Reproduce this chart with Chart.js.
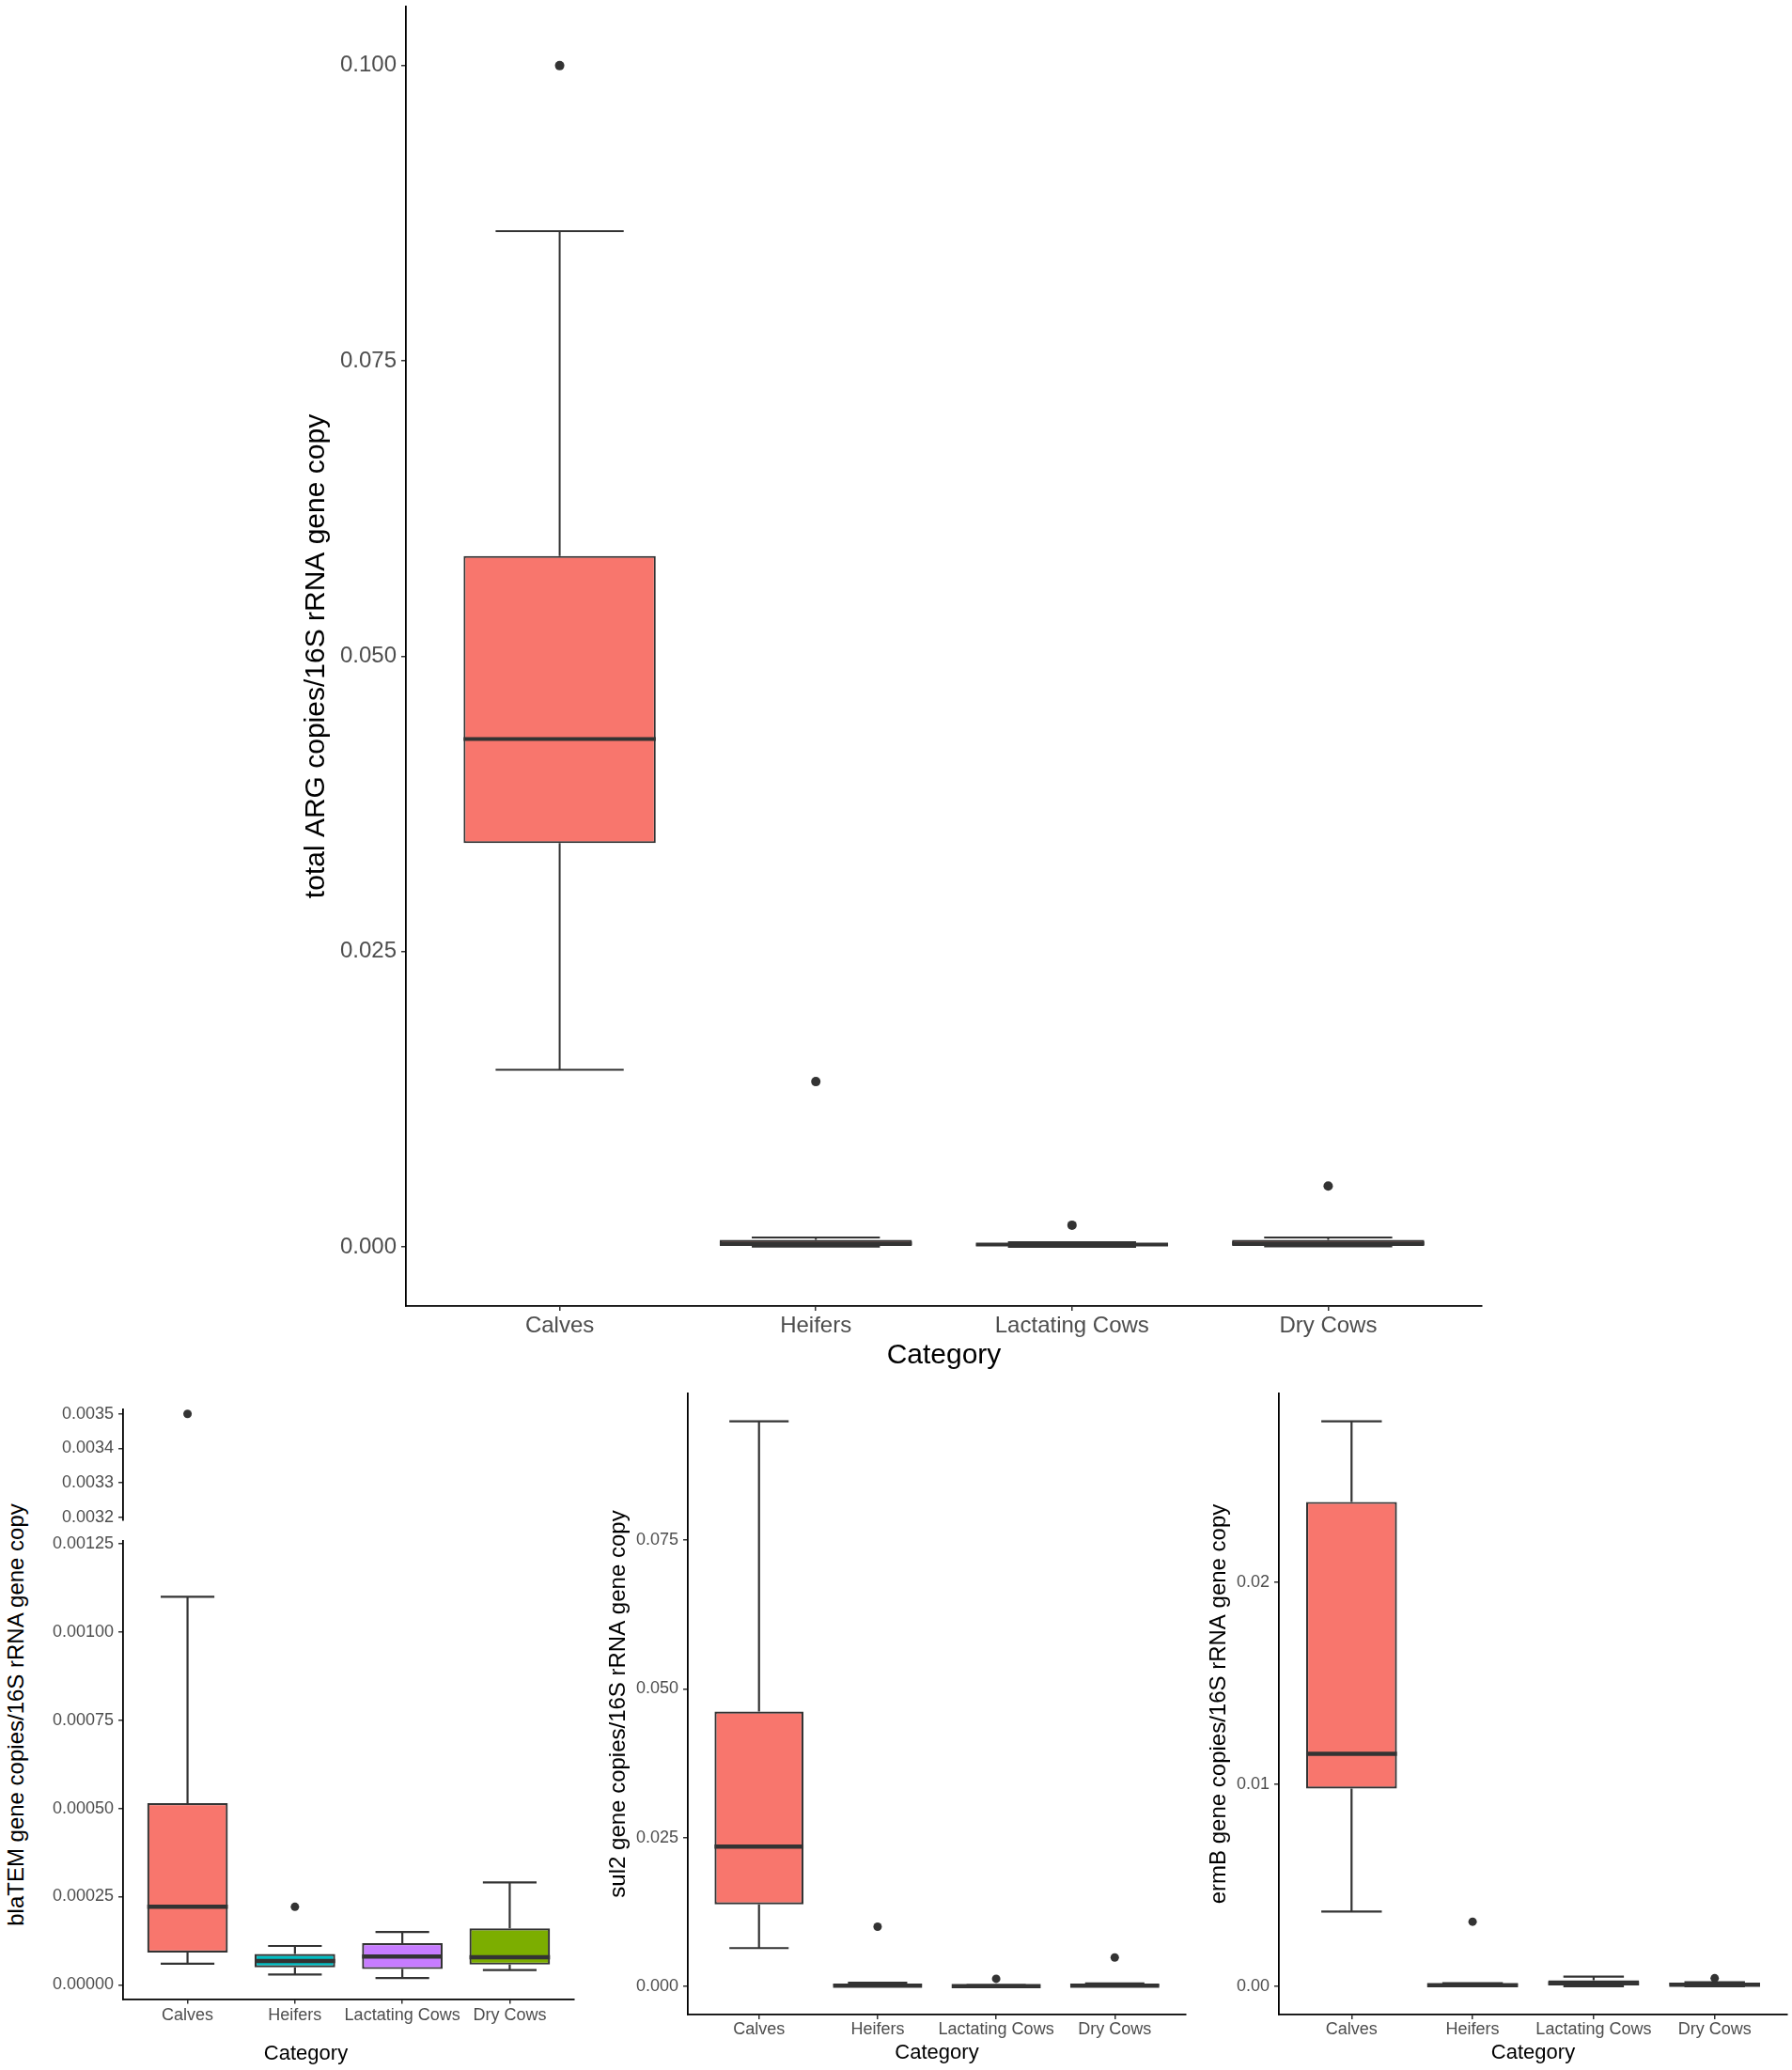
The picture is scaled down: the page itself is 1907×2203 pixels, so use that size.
<!DOCTYPE html>
<html>
<head>
<meta charset="utf-8">
<script src="https://cdn.jsdelivr.net/npm/chart.js@4.4.1/dist/chart.umd.min.js"></script>
<style>
  html, body { margin: 0; padding: 0; background: #fff; }
  body { width: 1907px; height: 2203px; position: relative; overflow: hidden; }
  .panel { position: absolute; }
  .ytitle {
    position: absolute; width: 600px; height: 30px; line-height: 30px; text-align: center;
    font: 24px 'Liberation Sans', Arial, sans-serif; color: #000; transform: rotate(-90deg);
  }
</style>
</head>
<body>
<div class="panel" style="left:319px;top:0;width:1264px;height:1461px"><canvas id="totalChart"></canvas></div>
<div class="panel" style="left:40px;top:1495px;width:582px;height:127px"><canvas id="blaHighChart"></canvas></div>
<div class="panel" style="left:40px;top:1635px;width:582px;height:564px"><canvas id="blaLowChart"></canvas></div>
<div class="ytitle" style="left:-282px;top:1810px">blaTEM gene copies/16S rRNA gene copy</div>
<div class="panel" style="left:644px;top:1478px;width:623px;height:720px"><canvas id="sul2Chart"></canvas></div>
<div class="panel" style="left:1283px;top:1478px;width:624px;height:720px"><canvas id="ermBChart"></canvas></div>

<script>
const categories = ['Calves', 'Heifers', 'Lactating Cows', 'Dry Cows'];

// total ARG copies / 16S
const totalLow = [0.0150, 0.00003, 0.00002, 0.00005];
const totalQ1 = [0.0342, 0.0001, 0.0001, 0.0001];
const totalMedian = [0.0430, 0.0003, 0.0002, 0.0003];
const totalQ3 = [0.0585, 0.0006, 0.0003, 0.0006];
const totalHigh = [0.0860, 0.0008, 0.0004, 0.0008];
const totalOutliers = [0.100, 0.0140, 0.00185, 0.00516];
const totalTicks = [0, 0.025, 0.05, 0.075, 0.1];
const totalTickLabels = ['0.000', '0.025', '0.050', '0.075', '0.100'];

// blaTEM (broken axis)
const blaLow = [0.0000595, 0.0000291, 0.0000190, 0.0000419];
const blaQ1 = [0.0000912, 0.0000494, 0.0000445, 0.0000571];
const blaMedian = [0.000221, 0.0000672, 0.0000798, 0.0000780];
const blaQ3 = [0.000515, 0.0000873, 0.0001177, 0.0001596];
const blaHigh = [0.00110, 0.000110, 0.0001494, 0.000290];
const blaOutliersLow = [null, 0.000221, null, null];
const blaOutliersHigh = [0.0035, null, null, null];
const blaLowTicks = [0, 0.00025, 0.0005, 0.00075, 0.001, 0.00125];
const blaLowTickLabels = ['0.00000', '0.00025', '0.00050', '0.00075', '0.00100', '0.00125'];
const blaHighTicks = [0.0032, 0.0033, 0.0034, 0.0035];
const blaHighTickLabels = ['0.0032', '0.0033', '0.0034', '0.0035'];

// sul2
const sul2Low = [0.00643, 0.0, 0.0, 0.0];
const sul2Q1 = [0.01377, 0.00005, 0.00002, 0.00003];
const sul2Median = [0.0235, 0.0001, 0.00005, 0.0001];
const sul2Q3 = [0.04618, 0.0004, 0.00015, 0.0003];
const sul2High = [0.09498, 0.0006, 0.0002, 0.0005];
const sul2Outliers = [null, 0.01003, 0.00128, 0.00486];
const sul2Ticks = [0, 0.025, 0.05, 0.075];
const sul2TickLabels = ['0.000', '0.025', '0.050', '0.075'];

// ermB
const ermBLow = [0.0037, 0.0, 0.0, 0.0];
const ermBQ1 = [0.00979, 0.00002, 0.00005, 0.00002];
const ermBMedian = [0.01151, 0.00005, 0.00015, 0.00008];
const ermBQ3 = [0.02399, 0.00012, 0.0003, 0.00018];
const ermBHigh = [0.02798, 0.00015, 0.00048, 0.0002];
const ermBOutliers = [null, 0.0032, null, 0.0004];
const ermBTicks = [0, 0.01, 0.02];
const ermBTickLabels = ['0.00', '0.01', '0.02'];

const hueColors = ['#F8766D', '#00BFC4', '#C77CFF', '#7CAE00'];
const redColors = ['#F8766D', '#F8766D', '#F8766D', '#F8766D'];

Chart.defaults.font.family = "'Liberation Sans', Arial, sans-serif";

// whiskers behind the boxes, medians on top
const boxParts = {
    id: 'boxParts',
    beforeDatasetsDraw(chart, args, opts) {
        if (!opts || !opts.low) return;
        const ctx = chart.ctx, xs = chart.scales.x, ys = chart.scales.y;
        ctx.save();
        ctx.strokeStyle = opts.color;
        ctx.lineWidth = opts.lineWidth;
        opts.low.forEach((lo, i) => {
            const x = xs.getPixelForValue(i);
            const xa = xs.getPixelForValue(i - opts.capWidth / 2);
            const xb = xs.getPixelForValue(i + opts.capWidth / 2);
            const yLo = ys.getPixelForValue(lo), yHi = ys.getPixelForValue(opts.high[i]);
            ctx.beginPath();
            ctx.moveTo(x, yLo); ctx.lineTo(x, ys.getPixelForValue(opts.q1[i]));
            ctx.moveTo(x, ys.getPixelForValue(opts.q3[i])); ctx.lineTo(x, yHi);
            ctx.moveTo(xa, yLo); ctx.lineTo(xb, yLo);
            ctx.moveTo(xa, yHi); ctx.lineTo(xb, yHi);
            ctx.stroke();
        });
        ctx.restore();
    },
    afterDatasetsDraw(chart, args, opts) {
        if (!opts || !opts.med) return;
        const ctx = chart.ctx, xs = chart.scales.x, ys = chart.scales.y;
        ctx.save();
        ctx.strokeStyle = opts.color;
        ctx.lineWidth = opts.medianWidth;
        opts.med.forEach((m, i) => {
            const y = ys.getPixelForValue(m);
            ctx.beginPath();
            ctx.moveTo(xs.getPixelForValue(i - opts.boxWidth / 2), y);
            ctx.lineTo(xs.getPixelForValue(i + opts.boxWidth / 2), y);
            ctx.stroke();
        });
        ctx.restore();
    }
};
Chart.register(boxParts);

function makeBoxChart(id, s) {
    const datasets = [];
    if (s.q1) {
        datasets.push({
            type: 'bar',
            data: categories.map((c, i) => ({ x: i, y: [s.q1[i], s.q3[i]] })),
            backgroundColor: s.fill,
            borderColor: '#333333',
            borderWidth: s.lineWidth,
            borderSkipped: false,
            barPercentage: 0.75,
            categoryPercentage: 1.0
        });
    }
    const pts = [];
    s.outliers.forEach((v, i) => { if (v !== null) pts.push({ x: i, y: v }); });
    datasets.push({
        type: 'scatter',
        data: pts,
        backgroundColor: '#333333',
        borderWidth: 0,
        pointRadius: s.pointRadius,
        clip: false
    });

    const tickGrid = {
        display: true, drawOnChartArea: false, drawTicks: true, offset: false,
        tickLength: 5, color: '#333333', lineWidth: 1.5
    };

    return new Chart(document.getElementById(id), {
        type: 'bar',
        data: { datasets: datasets },
        options: {
            responsive: true,
            maintainAspectRatio: false,
            animation: false,
            events: [],
            layout: { padding: { top: s.padTop, right: s.padRight, left: 0, bottom: 0 } },
            plugins: {
                legend: { display: false },
                tooltip: { enabled: false },
                title: s.plotTitle ? {
                    display: true, text: s.plotTitle, position: 'bottom',
                    font: { size: s.xTitleSize, weight: 'normal' }, color: '#000',
                    padding: { top: 10, bottom: 0 }
                } : { display: false },
                boxParts: s.q1 ? {
                    low: s.low, q1: s.q1, med: s.med, q3: s.q3, high: s.high,
                    boxWidth: 0.75, capWidth: 0.5, color: '#333333',
                    lineWidth: s.lineWidth, medianWidth: s.medianWidth
                } : false
            },
            scales: {
                x: {
                    type: 'linear',
                    display: s.showX,
                    min: -0.6, max: 3.6,
                    offset: false,
                    afterBuildTicks: (axis) => { axis.ticks = categories.map((c, i) => ({ value: i })); },
                    ticks: {
                        callback: (v) => categories[v],
                        font: { size: s.tickSize, lineHeight: 1 },
                        color: '#4D4D4D',
                        padding: s.xTickPad,
                        maxRotation: 0, autoSkip: false
                    },
                    grid: tickGrid,
                    border: { display: true, color: '#000', width: 1.8 },
                    title: s.xTitle ? {
                        display: true, text: s.xTitle, color: '#000',
                        font: { size: s.xTitleSize }, padding: 0
                    } : { display: false },
                    afterFit: (axis) => { axis.height = s.xHeight; axis.paddingLeft = 0; axis.paddingRight = 0; }
                },
                y: {
                    type: 'linear',
                    min: s.yMin, max: s.yMax,
                    afterBuildTicks: (axis) => { axis.ticks = s.yTicks.map(v => ({ value: v })); },
                    ticks: {
                        callback: (v) => s.yLabels[s.yTicks.indexOf(v)],
                        font: { size: s.tickSize },
                        color: '#4D4D4D',
                        padding: 5
                    },
                    grid: tickGrid,
                    border: { display: true, color: '#000', width: 1.8 },
                    title: s.yTitle ? {
                        display: true, text: s.yTitle, color: '#000',
                        font: { size: s.yTitleSize }, padding: 0
                    } : { display: false },
                    afterFit: (axis) => { axis.width = s.yWidth; axis.paddingTop = 0; axis.paddingBottom = 0; }
                }
            }
        }
    });
}

makeBoxChart('totalChart', {
    low: totalLow, q1: totalQ1, med: totalMedian, q3: totalQ3, high: totalHigh,
    outliers: totalOutliers, fill: redColors,
    yMin: -0.005, yMax: 0.105, yTicks: totalTicks, yLabels: totalTickLabels,
    yTitle: 'total ARG copies/16S rRNA gene copy', xTitle: 'Category',
    tickSize: 24, xTitleSize: 30, yTitleSize: 30, xTickPad: 4,
    yWidth: 113, xHeight: 71, padTop: 7, padRight: 6, showX: true,
    lineWidth: 2, medianWidth: 4, pointRadius: 5
});

makeBoxChart('blaHighChart', {
    outliers: blaOutliersHigh,
    yMin: 0.003192, yMax: 0.003513, yTicks: blaHighTicks, yLabels: blaHighTickLabels,
    tickSize: 18, xTitleSize: 22, xTickPad: 3,
    yWidth: 91, xHeight: 0, padTop: 5, padRight: 11, showX: false,
    lineWidth: 2.2, medianWidth: 4.5, pointRadius: 4.5
});

makeBoxChart('blaLowChart', {
    low: blaLow, q1: blaQ1, med: blaMedian, q3: blaQ3, high: blaHigh,
    outliers: blaOutliersLow, fill: hueColors,
    yMin: -0.0000408, yMax: 0.001258, yTicks: blaLowTicks, yLabels: blaLowTickLabels,
    plotTitle: 'Category',
    tickSize: 18, xTitleSize: 22, xTickPad: 3,
    yWidth: 91, xHeight: 35, padTop: 5, padRight: 11, showX: true,
    lineWidth: 2.2, medianWidth: 4.5, pointRadius: 4.5
});

makeBoxChart('sul2Chart', {
    low: sul2Low, q1: sul2Q1, med: sul2Median, q3: sul2Q3, high: sul2High,
    outliers: sul2Outliers, fill: redColors,
    yMin: -0.00474, yMax: 0.09965, yTicks: sul2Ticks, yLabels: sul2TickLabels,
    yTitle: 'sul2 gene copies/16S rRNA gene copy', xTitle: 'Category',
    tickSize: 18, xTitleSize: 22, yTitleSize: 24, xTickPad: 2.5,
    yWidth: 88, xHeight: 54, padTop: 5, padRight: 5, showX: true,
    lineWidth: 2.2, medianWidth: 4.5, pointRadius: 4.5
});

makeBoxChart('ermBChart', {
    low: ermBLow, q1: ermBQ1, med: ermBMedian, q3: ermBQ3, high: ermBHigh,
    outliers: ermBOutliers, fill: redColors,
    yMin: -0.0014, yMax: 0.02936, yTicks: ermBTicks, yLabels: ermBTickLabels,
    yTitle: 'ermB gene copies/16S rRNA gene copy', xTitle: 'Category',
    tickSize: 18, xTitleSize: 22, yTitleSize: 24, xTickPad: 2.5,
    yWidth: 78, xHeight: 54, padTop: 5, padRight: 5, showX: true,
    lineWidth: 2.2, medianWidth: 4.5, pointRadius: 4.5
});
</script>
</body>
</html>
